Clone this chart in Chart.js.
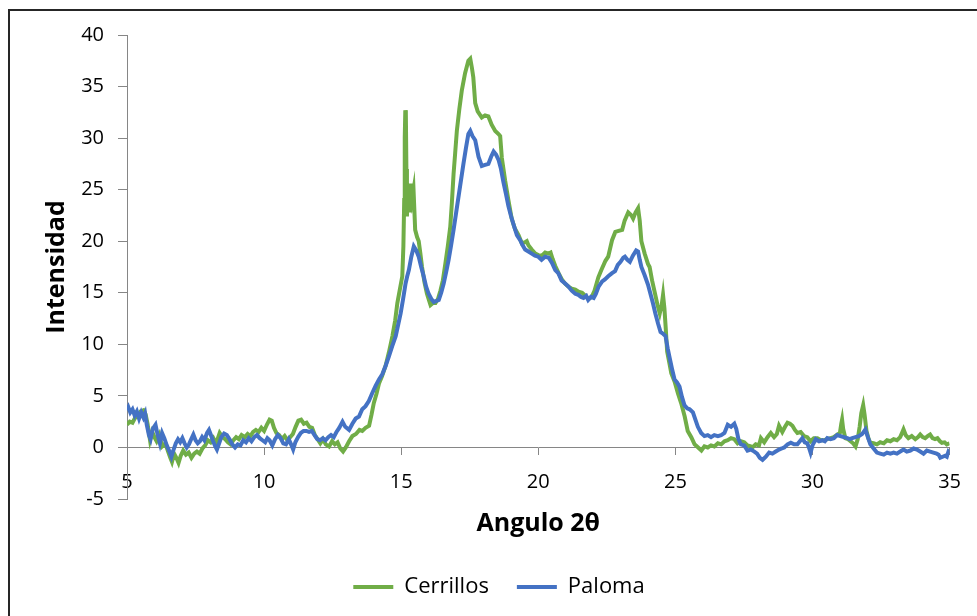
<!DOCTYPE html>
<html>
<head>
<meta charset="utf-8">
<script src="https://cdn.jsdelivr.net/npm/chart.js@4/dist/chart.umd.min.js"></script>
<style>
  html, body { margin: 0; padding: 0; background: #fff; }
  #wrap { position: relative; width: 977px; height: 616px; overflow: hidden; }
  #frame { position: absolute; left: 8px; top: 9px; width: 1000px; height: 700px;
           border: 2px solid #262626; box-sizing: border-box; pointer-events: none; }
  canvas { position: absolute; left: 0; top: 0; }
</style>
</head>
<body>
<div id="wrap">
  <canvas id="c" width="977" height="616"></canvas>
  <div id="frame"></div>
</div>
<script>
// X-ray diffraction scans: angle 2θ (degrees) vs intensity
const seriesNames = ['Cerrillos', 'Paloma'];

const cerrillosAngle = [
  5.00,5.10,5.20,5.30,5.40,5.50,5.60,5.68,5.75,5.84,5.92,6.00,6.08,6.18,6.28,6.40,6.50,6.58,6.64,6.72,
  6.80,6.88,6.96,7.05,7.15,7.25,7.35,7.45,7.55,7.65,7.75,7.85,7.95,8.05,8.15,8.25,8.38,8.48,8.58,8.68,
  8.78,8.88,8.98,9.08,9.18,9.30,9.40,9.50,9.60,9.70,9.80,9.90,10.00,10.10,10.20,10.28,10.36,10.45,10.55,10.65,
  10.75,10.85,10.95,11.05,11.15,11.25,11.35,11.45,11.55,11.65,11.75,11.85,11.95,12.05,12.15,12.25,12.37,12.48,12.58,12.68,
  12.78,12.88,12.98,13.10,13.22,13.35,13.48,13.58,13.70,13.83,13.92,14.00,14.10,14.19,14.30,14.43,14.55,14.68,14.78,14.86,
  14.95,15.04,15.08,15.11,15.13,15.15,15.17,15.19,15.21,15.24,15.27,15.30,15.33,15.36,15.40,15.45,15.51,15.58,15.64,15.70,
  15.76,15.85,15.94,16.07,16.16,16.25,16.34,16.43,16.52,16.61,16.70,16.79,16.85,16.91,16.97,17.03,17.12,17.21,17.33,17.45,
  17.52,17.58,17.63,17.70,17.79,17.94,18.06,18.18,18.30,18.43,18.55,18.61,18.67,18.73,18.79,18.91,19.03,19.15,19.28,19.40,
  19.52,19.58,19.64,19.76,19.89,20.00,20.13,20.25,20.38,20.45,20.52,20.62,20.74,20.86,20.97,21.10,21.22,21.35,21.47,21.60,
  21.72,21.83,21.95,22.05,22.19,22.30,22.45,22.55,22.69,22.81,22.93,23.06,23.15,23.28,23.40,23.46,23.55,23.64,23.70,23.76,
  23.88,24.00,24.06,24.15,24.25,24.35,24.43,24.50,24.55,24.60,24.65,24.70,24.78,24.85,24.97,25.10,25.21,25.34,25.45,25.58,
  25.70,25.83,25.95,26.06,26.18,26.30,26.42,26.55,26.67,26.79,26.91,27.03,27.15,27.27,27.39,27.51,27.63,27.75,27.81,27.93,
  28.05,28.12,28.24,28.36,28.48,28.60,28.70,28.78,28.90,29.00,29.09,29.18,29.27,29.36,29.45,29.57,29.69,29.81,29.93,30.05,
  30.18,30.30,30.42,30.54,30.66,30.78,30.90,31.00,31.05,31.08,31.12,31.20,31.30,31.39,31.48,31.57,31.65,31.72,31.78,31.85,
  31.90,31.97,32.05,32.11,32.23,32.35,32.47,32.60,32.72,32.84,32.96,33.08,33.20,33.28,33.32,33.40,33.50,33.62,33.75,33.85,
  33.93,34.02,34.11,34.20,34.29,34.38,34.47,34.56,34.65,34.72,34.82,34.90,35.00
];
const cerrillosIntensity = [
  2.2,2.5,2.4,2.9,3.0,3.5,3.6,3.2,2.3,0.7,1.5,1.0,0.6,1.2,0.1,0.4,-0.4,-1.0,-1.4,-0.6,
  -1.0,-1.5,-0.8,-0.3,-0.7,-0.5,-1.0,-0.6,-0.4,-0.6,-0.1,0.2,0.7,0.5,0.9,0.4,1.4,1.0,0.8,0.5,
  0.3,0.7,1.0,0.8,1.2,1.0,1.3,1.1,1.5,1.7,1.5,1.9,1.6,2.2,2.7,2.6,1.9,1.4,1.2,0.8,
  1.1,0.7,1.0,1.3,2.0,2.6,2.7,2.3,2.4,2.0,1.9,1.2,0.8,0.4,0.8,0.3,0.1,0.6,0.3,0.5,
  -0.1,-0.4,0.0,0.6,1.1,1.3,1.7,1.6,1.9,2.1,3.2,4.3,5.2,6.2,6.9,7.9,9.2,10.8,12.3,14.0,
  15.3,16.6,19.5,24.0,30.0,32.7,32.4,27.0,22.4,25.6,23.1,24.5,22.8,25.6,24.2,25.0,21.1,20.4,20.0,18.8,
  17.5,16.0,14.9,13.8,14.0,14.0,14.4,15.2,16.2,17.8,19.5,21.4,23.8,26.5,28.6,30.7,32.8,34.6,36.3,37.5,
  37.7,36.8,35.9,33.4,32.6,32.0,32.2,32.1,31.3,30.7,30.4,30.2,28.1,27.0,25.9,24.0,22.2,21.2,20.6,19.8,
  19.9,20.0,19.6,19.2,18.8,18.65,18.6,18.9,18.8,18.9,18.3,17.6,16.9,16.3,15.9,15.6,15.4,15.3,15.1,15.0,
  14.7,14.4,14.6,15.2,16.5,17.2,18.1,18.5,20.1,20.9,21.0,21.1,22.0,22.8,22.5,22.2,22.8,23.2,22.0,20.0,
  18.8,17.8,17.5,16.2,15.0,13.8,13.0,13.8,14.8,13.5,11.5,9.3,8.2,7.2,6.4,5.2,4.3,3.0,1.6,1.0,
  0.3,0.0,-0.3,0.1,0.0,0.2,0.1,0.4,0.3,0.6,0.7,0.9,0.8,0.4,0.6,0.5,0.2,0.1,0.0,0.3,
  0.2,0.9,0.5,1.0,1.4,1.0,1.3,2.1,1.5,2.0,2.4,2.3,2.1,1.7,1.4,1.5,1.1,1.0,0.6,0.9,
  0.9,0.7,0.7,0.8,0.9,1.0,1.25,1.4,2.3,2.7,1.8,0.9,0.8,0.6,0.4,0.1,0.8,2.0,3.3,4.1,
  3.2,1.6,0.8,0.45,0.4,0.3,0.5,0.4,0.7,0.6,0.8,0.7,1.0,1.5,1.75,1.2,0.9,1.1,0.8,1.0,
  1.25,1.0,0.9,1.1,1.25,0.9,0.8,0.9,0.6,0.45,0.5,0.3,0.4
];

const palomaAngle = [
  5.00,5.05,5.12,5.20,5.28,5.36,5.44,5.52,5.60,5.66,5.72,5.80,5.86,5.94,6.04,6.12,6.20,6.28,6.36,6.45,
  6.55,6.62,6.70,6.78,6.86,6.94,7.02,7.10,7.18,7.26,7.34,7.42,7.50,7.58,7.66,7.74,7.82,7.92,7.99,8.06,
  8.14,8.22,8.28,8.36,8.44,8.54,8.64,8.74,8.84,8.94,9.04,9.14,9.24,9.34,9.44,9.54,9.64,9.74,9.84,9.94,
  10.04,10.12,10.20,10.30,10.40,10.50,10.60,10.70,10.80,10.90,11.00,11.06,11.14,11.24,11.34,11.44,11.54,11.64,11.74,11.84,
  11.94,12.04,12.14,12.24,12.34,12.44,12.54,12.64,12.74,12.86,12.96,13.10,13.22,13.34,13.46,13.58,13.70,13.82,13.95,14.07,
  14.19,14.31,14.43,14.55,14.67,14.80,14.89,14.98,15.07,15.16,15.22,15.28,15.37,15.46,15.55,15.64,15.73,15.82,15.91,16.00,
  16.10,16.19,16.28,16.37,16.46,16.55,16.64,16.73,16.82,16.91,17.00,17.09,17.18,17.27,17.36,17.45,17.52,17.60,17.70,17.82,
  17.94,18.06,18.18,18.28,18.37,18.46,18.55,18.64,18.73,18.82,18.91,19.00,19.10,19.22,19.34,19.43,19.52,19.64,19.76,19.88,
  20.00,20.12,20.25,20.38,20.50,20.62,20.73,20.85,20.98,21.10,21.22,21.35,21.46,21.56,21.65,21.75,21.82,21.92,22.02,22.10,
  22.20,22.33,22.43,22.55,22.69,22.80,22.90,23.00,23.10,23.16,23.25,23.34,23.45,23.57,23.64,23.70,23.76,23.88,24.00,24.09,
  24.18,24.27,24.37,24.46,24.56,24.64,24.72,24.79,24.88,24.97,25.06,25.15,25.24,25.33,25.43,25.52,25.64,25.73,25.82,25.94,
  26.06,26.18,26.30,26.42,26.55,26.67,26.79,26.91,27.03,27.15,27.22,27.30,27.39,27.51,27.63,27.75,27.88,27.98,28.08,28.18,
  28.30,28.42,28.54,28.66,28.78,28.88,28.97,29.09,29.21,29.33,29.45,29.54,29.63,29.72,29.81,29.87,29.93,30.00,30.12,30.24,
  30.36,30.45,30.54,30.66,30.78,30.90,31.02,31.14,31.27,31.36,31.45,31.57,31.69,31.81,31.93,32.02,32.11,32.23,32.35,32.47,
  32.60,32.72,32.84,32.96,33.08,33.20,33.32,33.44,33.57,33.69,33.81,33.93,34.05,34.17,34.29,34.41,34.53,34.60,34.66,34.75,
  34.84,34.90,34.96,35.00
];
const palomaIntensity = [
  3.6,3.9,3.4,3.7,3.1,3.5,2.8,3.4,2.9,3.3,2.2,1.2,0.8,1.8,2.2,1.2,0.4,1.4,0.9,0.2,
  -0.4,-0.9,-0.2,0.4,0.8,0.5,0.9,0.4,0.0,0.3,0.8,1.25,0.7,0.4,0.6,1.0,0.7,1.4,1.7,1.2,
  0.6,0.1,-0.2,0.4,1.0,1.35,1.2,0.8,0.3,0.0,0.3,0.2,0.7,0.5,0.9,0.6,1.0,1.2,0.9,0.7,
  0.5,0.9,0.7,0.2,0.8,1.2,0.9,0.4,0.3,0.8,0.2,-0.2,0.5,1.0,1.4,1.6,1.6,1.5,1.6,1.2,
  0.8,0.7,0.9,0.7,1.0,1.2,1.0,1.5,1.9,2.5,2.0,1.7,2.3,2.8,3.0,3.7,4.0,4.5,5.3,6.0,
  6.6,7.1,7.9,8.8,9.8,10.8,11.9,13.0,14.4,15.9,16.6,17.2,18.5,19.5,19.1,18.5,17.5,16.6,15.6,14.9,
  14.4,14.1,14.2,14.3,15.0,15.9,17.0,18.2,19.6,21.1,22.7,24.3,25.9,27.5,29.0,30.4,30.7,30.2,29.8,28.2,
  27.3,27.4,27.5,28.2,28.7,28.4,27.9,27.0,25.7,24.6,23.4,22.5,21.6,20.6,20.1,19.6,19.2,19.0,18.8,18.6,
  18.5,18.2,18.5,18.4,17.9,17.2,16.9,16.2,15.9,15.6,15.2,14.9,14.8,14.6,14.5,14.7,14.3,14.6,14.5,14.9,
  15.6,16.1,16.3,16.6,16.9,17.1,17.7,18.0,18.4,18.5,18.2,18.0,18.6,19.1,19.0,18.2,17.5,16.7,15.8,14.9,
  14.0,13.0,12.0,11.2,11.0,10.8,9.6,8.7,7.6,6.6,6.3,5.9,4.9,4.1,3.8,3.7,3.4,2.7,2.0,1.4,
  1.1,1.2,1.0,1.2,1.1,1.2,1.4,2.2,2.0,2.3,1.8,0.8,0.3,0.2,-0.3,-0.2,-0.4,-0.6,-1.0,-1.2,
  -0.9,-0.5,-0.6,-0.4,-0.2,-0.1,0.0,0.3,0.45,0.3,0.3,0.6,0.9,0.5,0.4,0.0,-0.5,0.2,0.8,0.6,
  0.7,0.6,0.9,0.8,0.9,1.2,1.1,1.0,0.9,0.8,0.9,1.0,1.1,1.3,1.75,1.0,0.3,-0.1,-0.5,-0.6,
  -0.7,-0.5,-0.6,-0.5,-0.6,-0.4,-0.2,-0.4,-0.3,-0.1,-0.2,-0.4,-0.6,-0.3,-0.4,-0.5,-0.6,-0.7,-1.0,-0.9,
  -0.8,-0.9,-0.4,-0.5
];

const xTicks = [5, 10, 15, 20, 25, 30, 35];
const yTicks = [-5, 0, 5, 10, 15, 20, 25, 30, 35, 40];

const toPoints = (xs, ys) => xs.map((x, i) => ({ x: x, y: ys[i] }));

const FONT = "'Open Sans', 'Noto Sans', sans-serif";
const axisGray = '#868686';

new Chart(document.getElementById('c'), {
  type: 'line',
  data: {
    datasets: [
      {
        label: seriesNames[0],
        data: toPoints(cerrillosAngle, cerrillosIntensity),
        borderColor: '#70AD47',
        backgroundColor: '#70AD47',
        borderWidth: 4,
        pointRadius: 0,
        tension: 0,
        order: 1
      },
      {
        label: seriesNames[1],
        data: toPoints(palomaAngle, palomaIntensity),
        borderColor: '#4472C4',
        backgroundColor: '#4472C4',
        borderWidth: 4,
        pointRadius: 0,
        tension: 0,
        order: 0
      }
    ]
  },
  options: {
    responsive: false,
    animation: false,
    layout: { padding: { top: 35, left: 45, right: 24, bottom: 8 } },
    plugins: {
      tooltip: { enabled: false },
      legend: {
        position: 'bottom',
        // blank title row keeps the entries clear of the axis title
        title: { display: true, text: ' ', font: { size: 10 }, padding: { top: 37, bottom: 0 } },
        labels: {
          usePointStyle: true,
          pointStyle: 'line',
          pointStyleWidth: 40,
          padding: 28,
          color: '#000',
          font: { family: FONT, size: 22 },
          sort: (a, b) => a.datasetIndex - b.datasetIndex
        }
      }
    },
    scales: {
      x: {
        type: 'linear',
        position: { y: 0 },
        min: 5,
        max: 35,
        afterBuildTicks: (s) => { s.ticks = xTicks.map(v => ({ value: v })); },
        afterFit: (s) => { s.height = 50; },
        ticks: { color: '#000', font: { family: FONT, size: 20 }, padding: 16, maxRotation: 0 },
        grid: { drawOnChartArea: false, drawTicks: true, tickLength: 7, color: axisGray },
        border: { color: axisGray, width: 1 },
        title: {
          display: true,
          text: 'Angulo 2θ',
          color: '#000',
          font: { family: FONT, size: 25, weight: 'bold' },
          padding: { top: 0, bottom: -41 }
        }
      },
      y: {
        type: 'linear',
        min: -5,
        max: 40,
        afterBuildTicks: (s) => { s.ticks = yTicks.map(v => ({ value: v })); },
        afterFit: (s) => { s.width = 82; },
        ticks: { color: '#000', font: { family: FONT, size: 20 }, padding: 14 },
        grid: { drawOnChartArea: false, drawTicks: true, tickLength: 9, color: axisGray },
        border: { color: axisGray, width: 1 },
        title: {
          display: true,
          text: 'Intensidad',
          color: '#000',
          font: { family: FONT, size: 25, weight: 'bold' },
          padding: { top: -3, bottom: 0 }
        }
      }
    }
  }
});
</script>
</body>
</html>
